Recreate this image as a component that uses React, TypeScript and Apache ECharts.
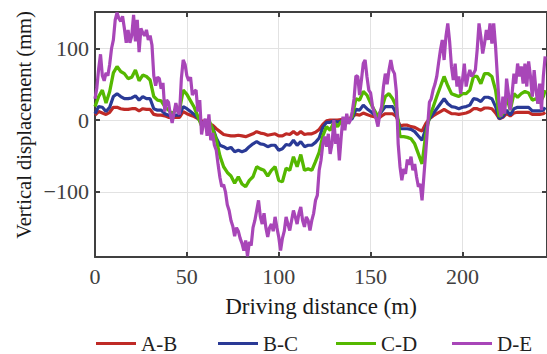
import { useEffect, useRef } from "react";
import * as echarts from "echarts";

// Driving distance (m) sampling positions for A-B, B-C, C-D
const distance = [
  0, 2, 4, 6, 8, 10, 12, 14, 16, 18,
  20, 22, 24, 26, 28, 30, 32, 34, 36, 38,
  40, 42, 44, 46, 48, 50, 52, 54, 56, 58,
  60, 62, 64, 66, 68, 70, 72, 74, 76, 78,
  80, 82, 84, 86, 88, 90, 92, 94, 96, 98,
  100, 102, 104, 106, 108, 110, 112, 114, 116, 118,
  120, 122, 124, 126, 128, 130, 132, 134, 136, 138,
  140, 142, 144, 146, 148, 150, 152, 154, 156, 158,
  160, 162, 164, 166, 168, 170, 172, 174, 176, 178,
  180, 182, 184, 186, 188, 190, 192, 194, 196, 198,
  200, 202, 204, 206, 208, 210, 212, 214, 216, 218,
  220, 222, 224, 226, 228, 230, 232, 234, 236, 238,
  240, 242, 244, 245,
];

// Finer sampling positions (1 m) for D-E
const distanceFine = [
  0, 1, 2, 3, 4, 5, 6, 7, 8, 9,
  10, 11, 12, 13, 14, 15, 16, 17, 18, 19,
  20, 21, 22, 23, 24, 25, 26, 27, 28, 29,
  30, 31, 32, 33, 34, 35, 36, 37, 38, 39,
  40, 41, 42, 43, 44, 45, 46, 47, 48, 49,
  50, 51, 52, 53, 54, 55, 56, 57, 58, 59,
  60, 61, 62, 63, 64, 65, 66, 67, 68, 69,
  70, 71, 72, 73, 74, 75, 76, 77, 78, 79,
  80, 81, 82, 83, 84, 85, 86, 87, 88, 89,
  90, 91, 92, 93, 94, 95, 96, 97, 98, 99,
  100, 101, 102, 103, 104, 105, 106, 107, 108, 109,
  110, 111, 112, 113, 114, 115, 116, 117, 118, 119,
  120, 121, 122, 123, 124, 125, 126, 127, 128, 129,
  130, 131, 132, 133, 134, 135, 136, 137, 138, 139,
  140, 141, 142, 143, 144, 145, 146, 147, 148, 149,
  150, 151, 152, 153, 154, 155, 156, 157, 158, 159,
  160, 161, 162, 163, 164, 165, 166, 167, 168, 169,
  170, 171, 172, 173, 174, 175, 176, 177, 178, 179,
  180, 181, 182, 183, 184, 185, 186, 187, 188, 189,
  190, 191, 192, 193, 194, 195, 196, 197, 198, 199,
  200, 201, 202, 203, 204, 205, 206, 207, 208, 209,
  210, 211, 212, 213, 214, 215, 216, 217, 218, 219,
  220, 221, 222, 223, 224, 225, 226, 227, 228, 229,
  230, 231, 232, 233, 234, 235, 236, 237, 238, 239,
  240, 241, 242, 243, 244, 245,
];

const seriesNames = ["A-B", "B-C", "C-D", "D-E"];

const abValues = [
  7, 12, 10, 8, 11, 18, 18, 16, 15, 15,
  16, 16, 13, 16, 15, 15, 8, 7, 7, 6,
  4, 4, 4, 4, 12, 9, 7, 5, 2, -1,
  -2, -5, -7, -12, -16, -20, -21, -22, -22, -21,
  -22, -23, -21, -19, -16, -18, -19, -21, -20, -19,
  -22, -22, -19, -20, -16, -20, -16, -20, -19, -19,
  -17, -13, -6, -1, 0, 0, 0, 1, 1, 1,
  5, 8, 7, 10, 8, 6, 5, 2, 6, 9,
  9, 9, 5, -8, -7, -7, -9, -10, -13, -15,
  -5, 2, 6, 9, 12, 15, 12, 9, 9, 8,
  9, 10, 12, 16, 16, 14, 17, 17, 16, 10,
  2, 4, 9, 6, 10, 11, 11, 11, 11, 8,
  8, 8, 9, 11,
];

const bcValues = [
  9, 19, 18, 12, 18, 33, 37, 33, 30, 30,
  31, 34, 28, 33, 30, 30, 16, 14, 14, 9,
  7, 6, 7, 7, 19, 16, 12, 8, 3, -4,
  -2, -5, -10, -25, -35, -37, -40, -38, -44, -42,
  -44, -42, -37, -33, -30, -33, -34, -37, -35, -35,
  -42, -40, -34, -35, -28, -35, -30, -37, -35, -35,
  -31, -25, -10, -3, -3, -1, -3, -1, -1, 0,
  2, 15, 14, 21, 16, 12, 8, 5, 12, 19,
  19, 19, 9, -12, -12, -12, -13, -16, -22, -28,
  -12, 2, 9, 16, 23, 30, 23, 19, 18, 16,
  18, 19, 21, 30, 29, 26, 32, 32, 30, 19,
  2, 5, 14, 7, 16, 18, 18, 18, 18, 13,
  13, 13, 14, 18,
];

const cdValues = [
  19, 33, 42, 24, 40, 66, 75, 68, 65, 58,
  60, 70, 55, 63, 61, 56, 33, 28, 27, 19,
  14, 9, 14, 14, 42, 36, 27, 18, 5, -8,
  -5, 0, -12, -27, -50, -65, -73, -78, -88, -79,
  -89, -93, -84, -79, -65, -68, -70, -78, -70, -65,
  -84, -86, -67, -70, -51, -65, -48, -70, -68, -70,
  -58, -45, -22, -9, -14, -3, -9, -2, -2, 0,
  5, 30, 28, 40, 35, 24, 14, 5, 16, 33,
  37, 30, 19, -23, -23, -24, -26, -33, -47, -61,
  -20, 5, 18, 33, 47, 61, 48, 37, 35, 33,
  37, 37, 42, 61, 61, 51, 65, 65, 61, 42,
  5, 9, 33, 14, 37, 32, 37, 40, 38, 28,
  30, 24, 33, 42,
];

const deValues = [
  30, 45, 72, 92, 62, 55, 66, 62, 78, 100,
  112, 140, 150, 142, 138, 145, 128, 108, 126, 108,
  118, 147, 110, 140, 95, 128, 122, 118, 126, 112,
  118, 105, 62, 48, 60, 58, 44, 52, 12, 28,
  25, 8, -4, 10, 24, 12, 8, 58, 84, 78,
  62, 55, 60, 35, 40, 42, 12, 28, -20, -5,
  2, -22, 8, -28, -18, -35, -42, -62, -80, -93,
  -90, -100, -118, -126, -140, -148, -162, -150, -155, -165,
  -172, -182, -168, -190, -170, -175, -150, -140, -126, -112,
  -135, -145, -130, -150, -163, -150, -145, -155, -135, -150,
  -163, -182, -165, -155, -135, -145, -154, -140, -126, -135,
  -145, -130, -121, -140, -149, -135, -140, -154, -140, -130,
  -112, -105, -70, -56, -33, -23, -37, -19, -47, -33,
  0, -33, -19, -56, -23, 5, -14, 9, -5, 0,
  12, 30, 62, 61, 35, 56, 79, 84, 61, 42,
  38, 20, 10, 2, -9, 9, 19, 47, 65, 50,
  70, 84, 70, 65, 40, -33, -65, -84, -68, -75,
  -55, -62, -51, -70, -61, -79, -93, -89, -112, -78,
  -45, -10, 25, 30, 42, 50, 61, 80, 98, 112,
  84, 117, 135, 110, 75, 56, 79, 47, 61, 37,
  56, 79, 47, 61, 70, 61, 65, 70, 98, 135,
  117, 93, 107, 126, 112, 135, 107, 135, 103, 61,
  20, 5, 33, 9, 58, 37, 14, 37, 65, 51,
  79, 61, 75, 51, 79, 47, 82, 61, 33, 70,
  42, 23, 51, 14, 61, 89,
];

const xTicks = [0, 50, 100, 150, 200];
const yTicks = [-100, 0, 100];

const colors = ["#bf2a26", "#2a3a96", "#55b800", "#a846b8"];
const legendLefts = [96, 218, 336, 452];

export default function App() {
  const ref = useRef<HTMLDivElement>(null);

  useEffect(() => {
    if (!ref.current) return;
    const chart = echarts.init(ref.current, null, { renderer: "svg" });
    const font = "Liberation Serif, Times New Roman, serif";
    const frame = "#404040";
    const pair = (xs: number[], vals: number[]) => xs.map((d, i) => [d, vals[i]]);
    const allData = [
      pair(distance, abValues),
      pair(distance, bcValues),
      pair(distance, cdValues),
      pair(distanceFine, deValues),
    ];
    const widths = [3.2, 3.2, 3.3, 3.2];

    const axisCommon = {
      axisLine: { show: true, onZero: false, lineStyle: { color: frame, width: 2 } },
      axisTick: { show: true, inside: true, length: 5, lineStyle: { color: frame, width: 2 } },
    };

    chart.setOption({
      animation: false,
      backgroundColor: "#ffffff",
      textStyle: { fontFamily: font },
      grid: { left: 95, top: 12, right: 0, bottom: 97, containLabel: false },
      graphic: [
        {
          type: "text",
          x: 24,
          y: 125,
          rotation: Math.PI / 2,
          style: {
            text: "Vertical displacement (mm)",
            fontSize: 20.5,
            fontFamily: font,
            fill: "#1a1a1a",
            textAlign: "center",
            textVerticalAlign: "middle",
          },
        },
      ],
      legend: seriesNames.map((n, i) => ({
        data: [n],
        left: legendLefts[i],
        top: 333,
        itemWidth: 40,
        itemHeight: 3,
        icon: "rect",
        padding: 0,
        textStyle: { fontSize: 21, lineHeight: 20, color: "#222", fontFamily: font },
      })),
      xAxis: [
        {
          type: "value",
          min: 0,
          max: 246,
          position: "bottom",
          ...axisCommon,
          axisTick: { ...axisCommon.axisTick, customValues: xTicks },
          axisLabel: {
            customValues: xTicks,
            color: frame,
            fontSize: 22,
            fontFamily: font,
            margin: 8,
          },
          splitLine: { show: true, lineStyle: { color: "#e2e2e2", width: 1 } },
          name: "Driving distance (m)",
          nameLocation: "middle",
          nameGap: 38,
          nameTextStyle: { fontSize: 23, color: "#1a1a1a", fontFamily: font },
        },
        {
          type: "value",
          min: 0,
          max: 246,
          position: "top",
          ...axisCommon,
          axisTick: { ...axisCommon.axisTick, customValues: xTicks },
          axisLabel: { show: false },
          splitLine: { show: false },
        },
      ],
      yAxis: [
        {
          type: "value",
          min: -191,
          max: 151,
          position: "left",
          ...axisCommon,
          axisTick: { ...axisCommon.axisTick, customValues: yTicks },
          axisLabel: {
            customValues: yTicks,
            color: frame,
            fontSize: 22,
            fontFamily: font,
            margin: 6,
            formatter: (v: number) => (v < 0 ? "\u2212" + Math.abs(v) : String(v)),
          },
          splitLine: { show: true, lineStyle: { color: "#e2e2e2", width: 1 } },
        },
        {
          type: "value",
          min: -191,
          max: 151,
          position: "right",
          ...axisCommon,
          axisTick: { ...axisCommon.axisTick, customValues: yTicks },
          axisLabel: { show: false },
          splitLine: { show: false },
        },
      ],
      series: seriesNames.map((n, i) => ({
        name: n,
        type: "line",
        data: allData[i],
        showSymbol: false,
        symbol: "none",
        color: colors[i],
        lineStyle: { color: colors[i], width: widths[i] },
        z: 2 + i,
      })),
    });

    return () => chart.dispose();
  }, []);

  return (
    <div
      ref={ref}
      style={{ position: "absolute", left: 0, top: 0, width: 547, height: 354 }}
    />
  );
}
